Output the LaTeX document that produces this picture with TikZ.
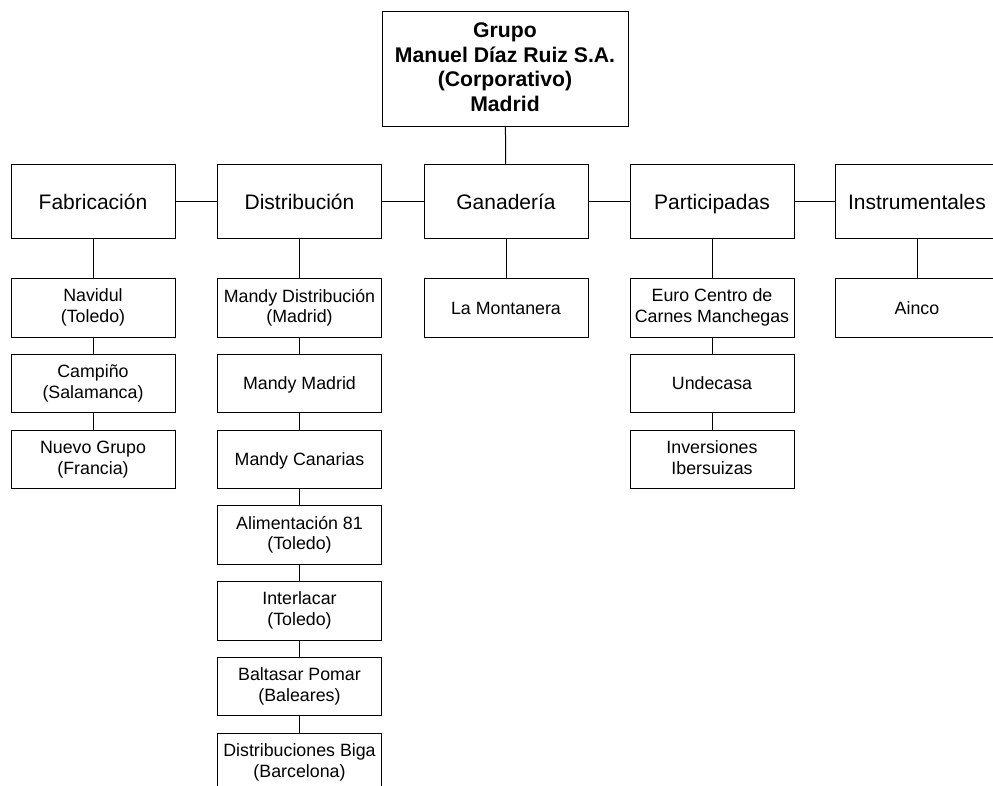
\documentclass[tikz,border=0pt]{standalone}
\usepackage{fontspec}
\setmainfont{Liberation Sans}
\newcommand\mystrut{\rule[-0.234em]{0pt}{1.184em}}
\begin{document}
\begin{tikzpicture}[x=1pt,y=-1pt,
  every node/.style={inner sep=0pt, outer sep=0pt, align=center,
    execute at begin node=\mystrut, execute at end node=\mystrut},
  topbox/.style={draw, line width=1pt, minimum width=246pt, minimum height=115pt,
    font=\fontsize{21.2pt}{24.6pt}\selectfont\bfseries},
  catbox/.style={draw, line width=1pt, minimum width=164pt, minimum height=74pt,
    font=\fontsize{21pt}{25pt}\selectfont},
  subbox/.style={draw, line width=1pt, minimum width=164pt, minimum height=58.5pt,
    font=\fontsize{17.8pt}{20.8pt}\selectfont},
  link/.style={line width=1pt}]
\path[use as bounding box, clip] (0,0) rectangle (993,786);
\node[topbox] (top) at (505,69.5) {Grupo\\Manuel Díaz Ruiz S.A.\\(Corporativo)\\Madrid};
\node[catbox] (fab) at (93,202) {Fabricación};
\node[catbox] (dis) at (299.5,202) {Distribución};
\node[catbox] (gan) at (506,202) {Ganadería};
\node[catbox] (par) at (712,202) {Participadas};
\node[catbox] (ins) at (917,202) {Instrumentales};
% Fabricacion
\node[subbox] (f1) at (93,308) {Navidul\\(Toledo)};
\node[subbox] (f2) at (93,383.5) {Campiño\\(Salamanca)};
\node[subbox] (f3) at (93,459.5) {Nuevo Grupo\\(Francia)};
% Distribucion
\node[subbox] (d1) at (299.5,308) {Mandy Distribución\\(Madrid)};
\node[subbox] (d2) at (299.5,383.5) {Mandy Madrid};
\node[subbox] (d3) at (299.5,459.5) {Mandy Canarias};
\node[subbox] (d4) at (299.5,535) {Alimentación 81\\(Toledo)};
\node[subbox] (d5) at (299.5,611) {Interlacar\\(Toledo)};
\node[subbox] (d6) at (299.5,686.5) {Baltasar Pomar\\(Baleares)};
\node[subbox] (d7) at (299.5,762.5) {Distribuciones Biga\\(Barcelona)};
% Ganaderia
\node[subbox] (g1) at (506,308) {La Montanera};
% Participadas
\node[subbox] (p1) at (712,308) {Euro Centro de\\Carnes Manchegas};
\node[subbox] (p2) at (712,383.5) {Undecasa};
\node[subbox] (p3) at (712,459.5) {Inversiones\\Ibersuizas};
% Instrumentales
\node[subbox] (i1) at (917,308) {Ainco};
% connectors
\draw[link] (top) -- (gan);
\draw[link] (fab) -- (dis);
\draw[link] (dis) -- (gan);
\draw[link] (gan) -- (par);
\draw[link] (par) -- (ins);
\draw[link] (fab) -- (f1);
\draw[link] (f1) -- (f2);
\draw[link] (f2) -- (f3);
\draw[link] (dis) -- (d1);
\draw[link] (d1) -- (d2);
\draw[link] (d2) -- (d3);
\draw[link] (d3) -- (d4);
\draw[link] (d4) -- (d5);
\draw[link] (d5) -- (d6);
\draw[link] (d6) -- (d7);
\draw[link] (gan) -- (g1);
\draw[link] (par) -- (p1);
\draw[link] (p1) -- (p2);
\draw[link] (p2) -- (p3);
\draw[link] (ins) -- (i1);
\end{tikzpicture}
\end{document}
